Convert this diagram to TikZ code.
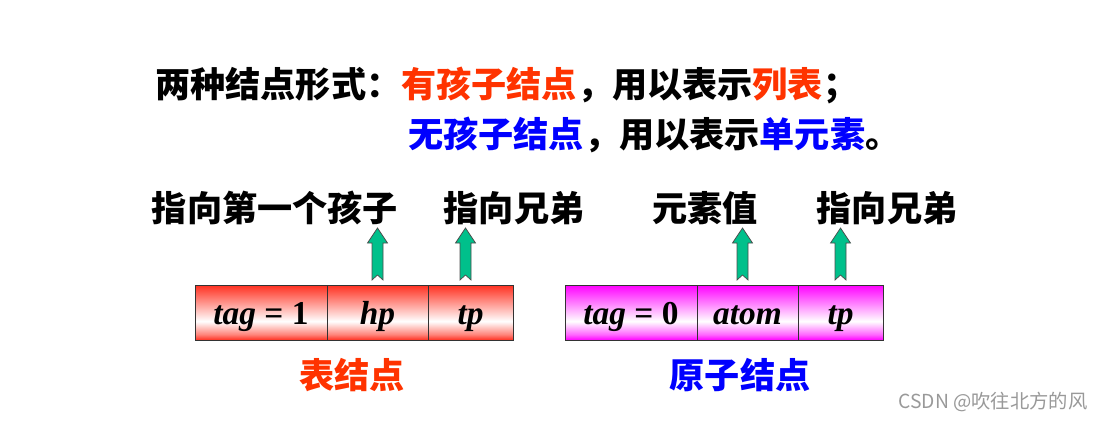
\documentclass[tikz,border=0pt]{standalone}
\usepackage{fontspec}
\setmainfont{Liberation Serif}
\newfontfamily\cjk{Noto Sans CJK SC}
\usetikzlibrary{positioning}
\definecolor{listred}{HTML}{FF3300}
\definecolor{atomblue}{HTML}{0000FF}
\definecolor{boxred}{HTML}{FF3020}
\definecolor{boxpink}{HTML}{FF00FF}
\definecolor{arrowgreen}{HTML}{00C08B}
\pgfdeclareverticalshading{listshade}{100bp}{color(0bp)=(boxred); color(25bp)=(boxred); color(30bp)=(boxred!60); color(42bp)=(white); color(75bp)=(boxred); color(100bp)=(boxred)}
\pgfdeclareverticalshading{atomshade}{100bp}{color(0bp)=(boxpink); color(25bp)=(boxpink); color(30bp)=(boxpink!60); color(42bp)=(white); color(75bp)=(boxpink); color(100bp)=(boxpink)}
\tikzset{
    title/.style={
        font=\cjk\bfseries\fontsize{20pt}{24pt}\selectfont,
        inner sep=0pt
    },
    cell/.style={
        rectangle,
        draw=black!80,
        minimum height=1.1cm,
        text height=0.68cm,
        text depth=0.2cm,
        inner sep=0pt,
        outer sep=0pt,
        font=\bfseries\itshape\fontsize{19pt}{22pt}\selectfont
    },
    listcell/.style={cell, shading=listshade},
    atomcell/.style={cell, shading=atomshade},
    uparrow/.pic={
        \draw[fill=arrowgreen, draw=black!70, line width=0.4pt]
            (-0.11,0) -- (0,0.1) -- (0.11,0) -- (0.11,0.74) -- (0.2,0.74)
            -- (0,1.04) -- (-0.2,0.74) -- (-0.11,0.74) -- cycle;
    }
}
\begin{document}
\begin{tikzpicture}

\useasboundingbox (0,0) rectangle (22.1,8.42);

\node[title, anchor=west] (line1) at (3.1,6.72)
    {两种结点形式：\textcolor{listred}{有孩子结点}，用以表示\textcolor{listred}{列表}；};
\node[title, anchor=west] (line2) at (8.16,5.72)
    {\textcolor{atomblue}{无孩子结点}，用以表示\textcolor{atomblue}{单元素}。};

\node[title] (firstchild) at (5.5,4.26) {指向第一个孩子};
\node[title] (sibling1) at (10.28,4.26) {指向兄弟};
\node[title] (value) at (14.1,4.26) {元素值};
\node[title] (sibling0) at (17.74,4.26) {指向兄弟};

% table node
\node[listcell, minimum width=2.64cm] (tag1) at (5.22,2.17) {tag {\upshape=} {\upshape 1}};
\node[listcell, minimum width=2.02cm, right=0pt of tag1] (hp1) {hp};
\node[listcell, minimum width=1.70cm, right=0pt of hp1] (tp1) {tp};

% atom node
\node[atomcell, minimum width=2.64cm] (tag0) at (12.62,2.17) {tag {\upshape=} {\upshape 0}};
\node[atomcell, minimum width=2.02cm, right=0pt of tag0] (atom) {atom};
\node[atomcell, minimum width=1.70cm, right=0pt of atom] (tp0) {tp};

\pic at ([yshift=0.1cm]hp1.north) {uparrow};
\pic at ([xshift=-0.1cm, yshift=0.1cm]tp1.north) {uparrow};
\pic at ([xshift=-0.1cm, yshift=0.1cm]atom.north) {uparrow};
\pic at ([yshift=0.1cm]tp0.north) {uparrow};

\node[title, text=listred] (listlabel) at (7.04,0.92) {表结点};
\node[title, text=atomblue] (atomlabel) at (14.8,0.92) {原子结点};

\node[anchor=west, inner sep=0pt, text=black!40,
      font=\cjk\fontsize{11pt}{13pt}\selectfont] (mark) at (17.96,0.38)
    {CSDN @吹往北方的风};

\end{tikzpicture}
\end{document}
